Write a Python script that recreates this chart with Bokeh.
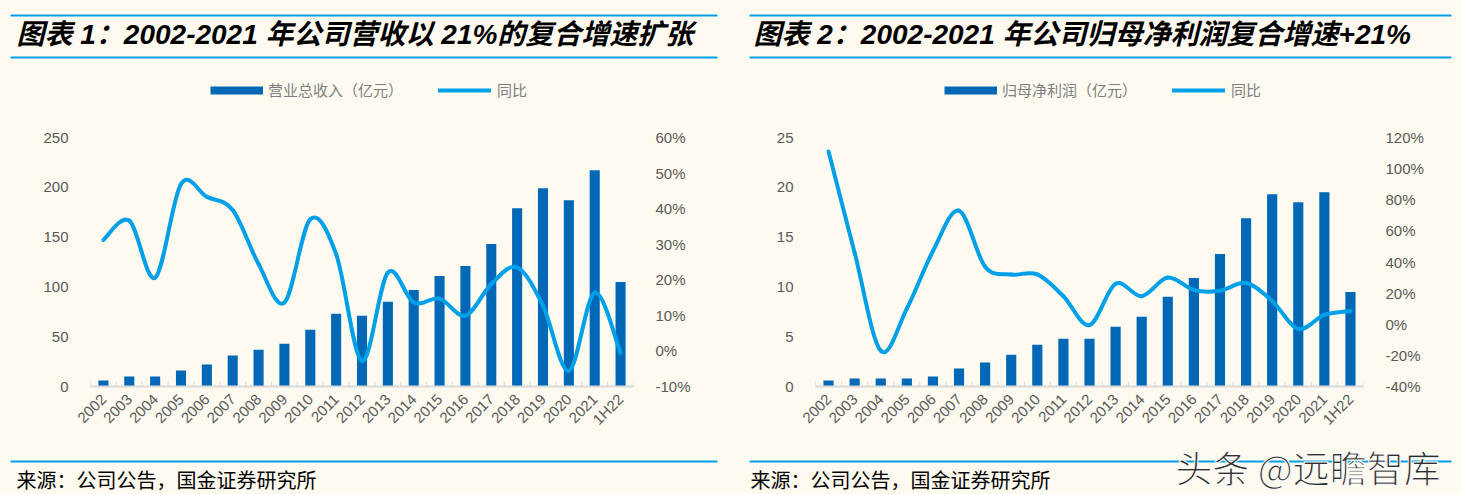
from bokeh.plotting import figure
from bokeh.models import (Range1d, FactorRange, LinearAxis, SingleIntervalTicker, PrintfTickFormatter,
                          Label, BoxAnnotation, Legend, LegendItem, ColumnDataSource, GlobalInlineStyleSheet)
from bokeh.layouts import row, column
from bokeh.embed import file_html
from bokeh.resources import INLINE

# ---------------- data ----------------
years = ["2002", "2003", "2004", "2005", "2006", "2007", "2008", "2009", "2010", "2011",
         "2012", "2013", "2014", "2015", "2016", "2017", "2018", "2019", "2020", "2021", "1H22"]
revenue = [6, 10, 10, 16, 22, 31, 37, 43, 57, 73, 71, 85, 97, 111, 121, 143, 179, 199, 187, 217, 105]
revenue_yoy = [31.2, 36.6, 20.6, 46.9, 43.3, 39.6, 24.4, 13.6, 37.0, 27.2, -2.8,
               22.0, 13.6, 14.7, 9.9, 18.8, 23.5, 12.7, -5.6, 16.4, -0.6]
profit = [0.6, 0.8, 0.8, 0.8, 1.0, 1.8, 2.4, 3.2, 4.2, 4.8, 4.8, 6.0, 7.0, 9.0, 10.9, 13.3,
          16.9, 19.3, 18.5, 19.5, 9.5]
profit_yoy = [111, 46, -17, 10, 47, 73, 37, 32, 32, 18, -0.5, 26, 18, 30, 22, 21.5, 26.5, 15, -3, 6, 8.5]

title1 = "图表 1：2002-2021 年公司营收以 21%的复合增速扩张"
title2 = "图表 2：2002-2021 年公司归母净利润复合增速+21%"
bar_label1 = "营业总收入（亿元）"
bar_label2 = "归母净利润（亿元）"
line_label = "同比"
source_note = "来源：公司公告，国金证券研究所"
watermark = "头条 @远瞻智库"

# ---------------- style ----------------
BG = "#FEFAF0"
BAR = "#0068B7"
LINE = "#00A0E9"
RULE = "#00A0E9"
TXT = "#595959"
LEG = "#7F7F7F"
AXIS = "#D9D9D9"
LATIN = "Liberation Sans"
CJK = "Noto Sans CJK SC"
MIX = "Liberation Sans, Noto Sans CJK SC"
W = 1461
HEAD_H, CHART_H, FOOT_H = 110, 330, 54
BORDER_TOP, BORDER_BOTTOM = 27, 54
FRAME_H = CHART_H - BORDER_TOP - BORDER_BOTTOM
NAN = float("nan")


def smooth(vals):
    n = len(vals)
    pts = [(i + 0.5, v) for i, v in enumerate(vals)]
    d = {k: [] for k in ("x0", "y0", "x1", "y1", "cx0", "cy0", "cx1", "cy1")}
    for i in range(n - 1):
        p0 = pts[max(i - 1, 0)]
        p1 = pts[i]
        p2 = pts[i + 1]
        p3 = pts[min(i + 2, n - 1)]
        d["x0"].append(p1[0]); d["y0"].append(p1[1])
        d["x1"].append(p2[0]); d["y1"].append(p2[1])
        d["cx0"].append(p1[0] + (p2[0] - p0[0]) / 6); d["cy0"].append(p1[1] + (p2[1] - p0[1]) / 6)
        d["cx1"].append(p2[0] - (p3[0] - p1[0]) / 6); d["cy1"].append(p2[1] - (p3[1] - p1[1]) / 6)
    return ColumnDataSource(d)


def blank(height, y0, y1):
    f = figure(width=W, height=height, x_range=Range1d(0, W), y_range=Range1d(y0, y1),
               x_axis_type=None, y_axis_type=None, output_backend="svg", toolbar_location=None,
               min_border=0, background_fill_color=BG, border_fill_color=BG, outline_line_color=None)
    f.xgrid.visible = False
    f.ygrid.visible = False
    return f


def rule(f, x0, x1, y):
    f.add_layout(BoxAnnotation(left=x0, right=x1, top=y, bottom=y + 2, fill_color=RULE,
                               fill_alpha=1, line_color=None))


def chart(width, bl, br, ymax, yint, pmin, pmax, pint, bars, yoy):
    p = figure(width=width, height=CHART_H, x_range=FactorRange(*years), y_range=Range1d(0, ymax),
               output_backend="svg", toolbar_location=None,
               min_border_left=bl, min_border_right=br, min_border_top=BORDER_TOP,
               min_border_bottom=BORDER_BOTTOM, background_fill_color=BG, border_fill_color=BG,
               outline_line_color=None)
    p.xgrid.visible = False
    p.ygrid.visible = False
    p.extra_y_ranges = {"pct": Range1d(pmin, pmax)}

    ya = p.yaxis[0]
    ya.ticker = SingleIntervalTicker(interval=yint)
    ya.axis_line_color = None
    ya.major_tick_line_color = None
    ya.minor_tick_line_color = None
    ya.major_tick_out = 0
    ya.major_label_standoff = 18
    ya.major_label_text_font = LATIN
    ya.major_label_text_font_size = "15px"
    ya.major_label_text_color = TXT

    ra = LinearAxis(y_range_name="pct", ticker=SingleIntervalTicker(interval=pint),
                    formatter=PrintfTickFormatter(format="%d%%"))
    ra.axis_line_color = None
    ra.major_tick_line_color = None
    ra.minor_tick_line_color = None
    ra.major_tick_out = 0
    ra.major_label_standoff = 18
    ra.major_label_text_font = LATIN
    ra.major_label_text_font_size = "15px"
    ra.major_label_text_color = TXT
    p.add_layout(ra, "right")

    xa = p.xaxis[0]
    xa.axis_line_color = AXIS
    xa.axis_line_width = 2
    xa.major_tick_line_color = None
    xa.major_tick_out = 0
    xa.major_label_orientation = 0.785398
    xa.major_label_standoff = 10
    xa.major_label_text_font = LATIN
    xa.major_label_text_font_size = "15px"
    xa.major_label_text_color = TXT

    tick_h = 5 * ymax / FRAME_H
    bx = list(range(len(years) + 1))
    p.segment(x0=bx, y0=[0] * len(bx), x1=bx, y1=[tick_h] * len(bx), line_color=AXIS, line_width=1)

    p.vbar(x=years, top=bars, width=0.39, fill_color=BAR, line_color=None)
    p.bezier(source=smooth(yoy), x0="x0", y0="y0", x1="x1", y1="y1", cx0="cx0", cy0="cy0",
             cx1="cx1", cy1="cy1", line_color=LINE, line_width=4, line_cap="round",
             y_range_name="pct")
    return p


# ---------------- header (titles, rules, legends) ----------------
head = blank(HEAD_H, HEAD_H, 0)
for x0, x1 in ((10, 717), (749, 1451)):
    rule(head, x0, x1, 14)
    rule(head, x0, x1, 56)
for tx, t in ((16, title1), (753, title2)):
    head.add_layout(Label(x=tx, y=34, text=t, text_font=MIX, text_font_size="28px",
                          text_font_style="bold italic", text_color="black",
                          text_baseline="middle", text_align="left"))

common = dict(orientation="horizontal", padding=0, margin=0, spacing=0,
              border_line_color=None, background_fill_alpha=0, label_text_font=CJK,
              label_text_font_size="15px", label_text_color=LEG, label_height=20,
              glyph_width=53, glyph_height=20)
# legend swatches (no data points of their own)
bar_sw = head.line(x=[NAN], y=[NAN], line_color=BAR, line_width=8, line_cap="butt")
line_sw = head.line(x=[NAN], y=[NAN], line_color=LINE, line_width=4, line_cap="round")
for bx_, lx_, lab in ((210, 438, bar_label1), (944, 1172, bar_label2)):
    head.add_layout(Legend(items=[LegendItem(label=lab, renderers=[bar_sw])],
                           location=(bx_, HEAD_H - 100), label_standoff=5, **common))
    head.add_layout(Legend(items=[LegendItem(label=line_label, renderers=[line_sw])],
                           location=(lx_, HEAD_H - 100), label_standoff=6, **common))

# ---------------- charts ----------------
c1 = chart(730, 90, 97, 250, 50, -10, 60, 10, revenue, revenue_yoy)
c2 = chart(731, 85, 98, 25, 5, -40, 120, 20, profit, profit_yoy)

# ---------------- footer ----------------
foot = blank(FOOT_H, 494, 440)
for x0, x1, tx in ((10, 717, 16), (749, 1451, 750)):
    rule(foot, x0, x1, 460)
    foot.add_layout(Label(x=tx, y=479, text=source_note, text_font=CJK, text_font_size="20px",
                          text_color="black", text_baseline="middle", text_align="left"))
foot.add_layout(Label(x=1175, y=466, text=watermark, text_font=CJK, text_font_size="37px",
                      text_color="#2E2E2E", text_outline_color="white",
                      text_baseline="middle", text_align="left"))

layout = column(head, row(c1, c2), foot)
layout.stylesheets = [GlobalInlineStyleSheet(css="body { background: #FEFAF0; }")]

open("out.html", "w").write(file_html(layout, INLINE))
